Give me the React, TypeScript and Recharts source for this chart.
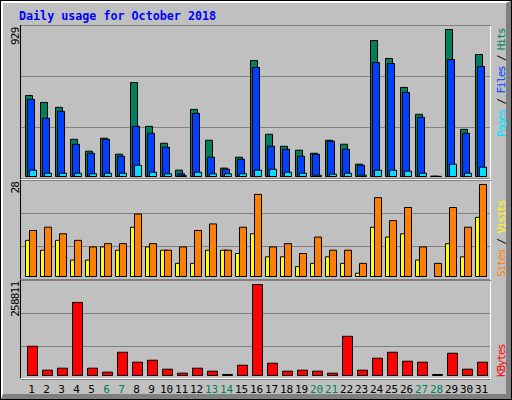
import { Bar, BarChart, CartesianGrid, XAxis, YAxis } from "recharts";

// Daily usage, October 2018
const days = [
  "1", "2", "3", "4", "5", "6", "7", "8", "9", "10", "11", "12", "13", "14", "15", "16",
  "17", "18", "19", "20", "21", "22", "23", "24", "25", "26", "27", "28", "29", "30", "31",
];
const hits = [512, 468, 437, 235, 160, 242, 141, 594, 317, 210, 40, 424, 229, 53, 122, 733, 267, 191, 166, 147, 229, 204, 78, 859, 746, 563, 393, 2, 929, 298, 771];
const files = [487, 368, 412, 204, 147, 235, 128, 317, 273, 185, 17, 399, 122, 46, 109, 689, 191, 172, 128, 141, 223, 172, 71, 720, 714, 531, 374, 1, 739, 273, 695];
const pages = [40, 21, 21, 21, 17, 21, 21, 71, 27, 17, 5, 27, 17, 17, 17, 40, 46, 27, 21, 8, 15, 21, 8, 40, 40, 34, 21, 1, 78, 21, 59];
const visits = [11, 8, 11, 5, 5, 9, 8, 15, 9, 8, 4, 4, 8, 8, 7, 13, 6, 6, 3, 4, 6, 4, 1, 15, 12, 13, 5, 0, 10, 6, 18];
const sites = [14, 15, 13, 11, 9, 10, 10, 19, 10, 8, 9, 14, 16, 8, 15, 25, 9, 10, 7, 12, 8, 8, 4, 24, 17, 21, 9, 4, 21, 15, 28];
const kbytes = [83120, 15113, 20780, 207804, 20780, 9446, 66120, 37783, 43450, 17947, 6612, 20780, 12279, 2900, 29282, 258811, 34949, 12279, 15113, 12279, 6612, 111459, 15113, 49118, 66120, 40616, 37783, 2900, 63286, 17947, 37783];

const usage = days.map((day, i) => ({
  day,
  hits: hits[i],
  files: files[i],
  pages: pages[i],
  visits: visits[i],
  sites: sites[i],
  kbytes: kbytes[i],
}));

const FONT = "'DejaVu Sans Mono', monospace";
const GRID = "#808080";

// webalizer puts the max value a few px under the top third-line and
// starts the bars a few px above the bottom one
function scale(max: number, plotH: number, barH: number, lift: number) {
  const lo = (-lift / barH) * max;
  const hi = lo + (plotH / barH) * max;
  const step = (hi - lo) / 3;
  return { domain: [lo, hi], ticks: [lo + step, lo + 2 * step] };
}

const topScale = scale(Math.max(...hits), 153, 147, 2);
const midScale = scale(Math.max(...sites), 99, 92, 3);
const botScale = scale(Math.max(...kbytes), 99, 91, 4);

function isWeekend(day: string) {
  const wd = new Date(2018, 9, Number(day)).getDay();
  return wd === 0 || wd === 6;
}

function DayTick(props: any) {
  const { x, y, payload } = props;
  return (
    <text
      x={x}
      y={y}
      dx={-0.5}
      dy={13.8}
      textAnchor="middle"
      fontFamily={FONT}
      fontSize={11}
      fill={isWeekend(payload.value) ? "#00805C" : "#000000"}
    >
      {payload.value}
    </text>
  );
}

function Panel({ top, height }: { top: number; height: number }) {
  return (
    <div
      style={{
        position: "absolute",
        left: 20,
        top,
        width: 471,
        height,
        boxSizing: "border-box",
        borderTop: "1px solid #000",
        borderLeft: "1px solid #000",
        borderRight: "1px solid #fff",
        borderBottom: "1px solid #fff",
      }}
    />
  );
}

export default function App() {
  return (
    <div
      style={{
        position: "absolute",
        left: 0,
        top: 0,
        width: 512,
        height: 400,
        boxSizing: "border-box",
        border: "1px solid #000",
        background: "#C0C0C0",
      }}
    >
      <div
        style={{
          position: "absolute",
          inset: 0,
          borderStyle: "solid",
          borderWidth: "2px 5px 5px 2px",
          borderColor: "#fff #808080 #808080 #fff",
        }}
      />
      <div style={{ position: "absolute", left: -1, top: -1, width: 512, height: 400 }}>
        <Panel top={25} height={155} />
        <Panel top={180} height={100} />
        <Panel top={280} height={99} />

        <div style={{ position: "absolute", left: 0, top: 0 }}>
          <BarChart
            width={512}
            height={180}
            data={usage}
            margin={{ top: 25.5, right: 22, bottom: 1.5, left: 21 }}
            barSize={7}
            barGap={-5}
          >
            <CartesianGrid vertical={false} stroke={GRID} />
            <XAxis dataKey="day" hide padding={{ left: 2.5, right: 1.5 }} />
            <YAxis hide type="number" domain={topScale.domain} ticks={topScale.ticks} allowDataOverflow />
            <Bar dataKey="hits" fill="#00805C" stroke="#000" strokeWidth={1} isAnimationActive={false} />
            <Bar dataKey="files" fill="#0040FF" stroke="#000" strokeWidth={1} isAnimationActive={false} />
            <Bar dataKey="pages" fill="#00E0FF" stroke="#000" strokeWidth={1} isAnimationActive={false} />
          </BarChart>
        </div>

        <div style={{ position: "absolute", left: 0, top: 180 }}>
          <BarChart
            width={512}
            height={100}
            data={usage}
            margin={{ top: 0.5, right: 22, bottom: 0.5, left: 21 }}
            barSize={7}
            barGap={-3}
          >
            <CartesianGrid vertical={false} stroke={GRID} />
            <XAxis dataKey="day" hide padding={{ left: 2.5, right: 1.5 }} />
            <YAxis hide type="number" domain={midScale.domain} ticks={midScale.ticks} allowDataOverflow />
            <Bar dataKey="visits" fill="#FFFF00" stroke="#000" strokeWidth={1} isAnimationActive={false} />
            <Bar dataKey="sites" fill="#FF8000" stroke="#000" strokeWidth={1} isAnimationActive={false} />
          </BarChart>
        </div>

        <div style={{ position: "absolute", left: 0, top: 280 }}>
          <BarChart
            width={512}
            height={120}
            data={usage}
            margin={{ top: 0.5, right: 22, bottom: 0, left: 21 }}
            barSize={10}
          >
            <CartesianGrid vertical={false} stroke={GRID} />
            <XAxis
              dataKey="day"
              height={20.5}
              padding={{ left: 3.5, right: 0.5 }}
              axisLine={false}
              tickLine={false}
              tickSize={0}
              tickMargin={0}
              interval={0}
              tick={<DayTick />}
            />
            <YAxis hide type="number" domain={botScale.domain} ticks={botScale.ticks} allowDataOverflow />
            <Bar dataKey="kbytes" fill="#FF0000" stroke="#000" strokeWidth={1} isAnimationActive={false} />
          </BarChart>
        </div>

        <svg width={512} height={400} style={{ position: "absolute", left: 0, top: 0, pointerEvents: "none" }}>
          <text x={19} y={19.5} fontFamily={FONT} fontWeight="bold" fontSize={11.7} fill="#0000FF">
            Daily usage for October 2018
          </text>

          <g fontFamily={FONT} fontSize={11} letterSpacing={-0.8} fill="#000">
            <text transform="translate(19,45) rotate(-90)">{Math.max(...hits)}</text>
            <text transform="translate(19,193.5) rotate(-90)">{Math.max(...sites)}</text>
            <text transform="translate(19,316.7) rotate(-90)">{Math.max(...kbytes)}</text>
          </g>

          <g fontFamily={FONT} fontSize={11} letterSpacing={-1.2} fill="#000">
            <text transform="translate(505,137) rotate(-90)">
              <tspan fill="#00E0FF">Pages</tspan>
              <tspan> / </tspan>
              <tspan fill="#0040FF">Files</tspan>
              <tspan> / </tspan>
              <tspan fill="#00805C">Hits</tspan>
            </text>
            <text transform="translate(505,277) rotate(-90)">
              <tspan fill="#FF8000">Sites</tspan>
              <tspan> / </tspan>
              <tspan fill="#FFFF00">Visits</tspan>
            </text>
            <text transform="translate(505,377) rotate(-90)" fill="#FF0000">
              KBytes
            </text>
          </g>
        </svg>
      </div>
    </div>
  );
}
